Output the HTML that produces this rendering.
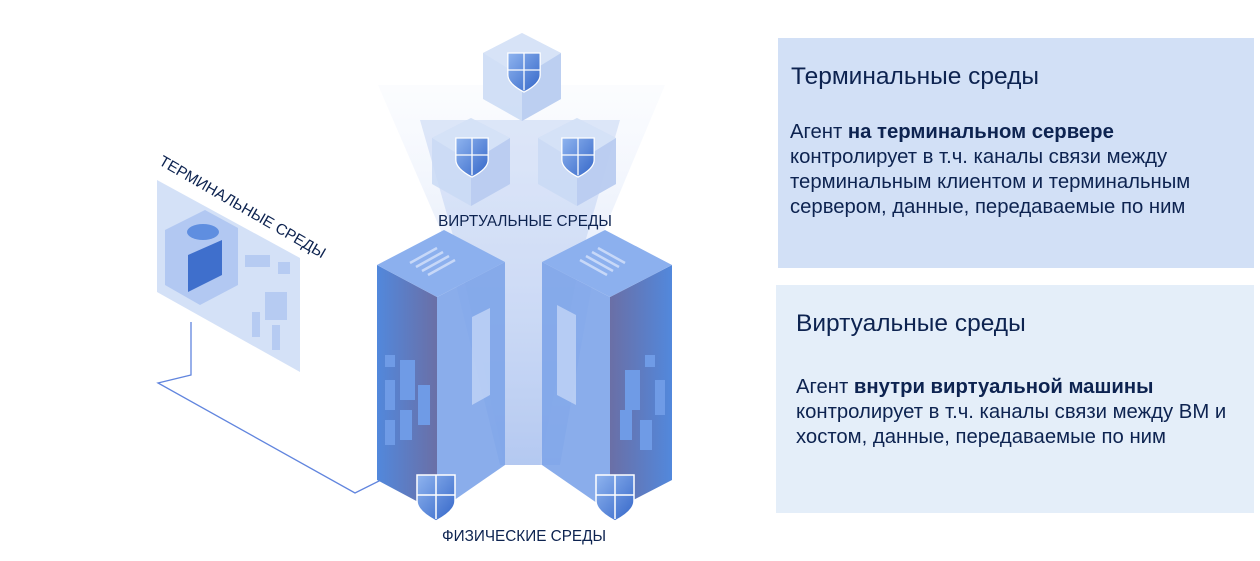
<!DOCTYPE html>
<html><head><meta charset="utf-8">
<style>
html,body{margin:0;padding:0;background:#fff;width:1260px;height:561px;overflow:hidden;font-family:"Liberation Sans",sans-serif;}
.box{position:absolute;color:#0d2350;}
.box h2{margin:0;font-weight:normal;font-size:24.5px;}
.box p{margin:0;font-size:20.3px;line-height:25px;}
</style></head><body>
<svg width="1260" height="561" style="position:absolute;left:0;top:0">
<defs>
<linearGradient id="beam" x1="0" y1="0" x2="0" y2="1">
<stop offset="0" stop-color="#dfe8fa" stop-opacity="0.2"/><stop offset="1" stop-color="#7fa3e8" stop-opacity="0.9"/></linearGradient>
<linearGradient id="lf" x1="0" y1="0" x2="1" y2="0"><stop offset="0" stop-color="#5288dc"/><stop offset="1" stop-color="#6a6fa6"/></linearGradient>
<linearGradient id="rf" x1="1" y1="0" x2="0" y2="0"><stop offset="0" stop-color="#5288dc"/><stop offset="1" stop-color="#6a6fa6"/></linearGradient>
<linearGradient id="sh" x1="0" y1="0" x2="1" y2="1"><stop offset="0" stop-color="#8fb4ef"/><stop offset="1" stop-color="#3466c8"/></linearGradient>
<g id="shield"><path d="M-19,-20 H19 V6 Q19,16 0,26 Q-19,16 -19,6Z" fill="url(#sh)" stroke="#fff" stroke-width="1.5"/><path d="M0,-20V24M-19,0H19" stroke="#fff" stroke-width="1.5"/></g>
<g id="cube"><polygon points="0,-42 39,-22 39,24 0,46 -39,24 -39,-22" fill="#c9d9f5" opacity="0.85"/><polygon points="0,2 39,-22 39,24 0,46" fill="#b4c8ef" opacity="0.7"/><polygon points="0,2 -39,-22 0,-42 39,-22" fill="#dbe6f9" opacity="0.6"/></g>
</defs>
<polygon points="378,85 665,85 600,240 560,465 500,465 445,240" fill="url(#beam)" opacity="0.6"/>
<polygon points="420,120 620,120 580,260 540,465 505,465 460,260" fill="#a9c1ef" opacity="0.35"/>
<use href="#cube" x="522" y="75"/><use href="#cube" x="471" y="160"/><use href="#cube" x="577" y="160"/>
<g transform="translate(524,70) scale(0.85)"><use href="#shield"/></g>
<g transform="translate(472,155) scale(0.85)"><use href="#shield"/></g>
<g transform="translate(578,155) scale(0.85)"><use href="#shield"/></g>
<text x="525" y="226" font-size="15.3" fill="#0d2350" text-anchor="middle">ВИРТУАЛЬНЫЕ СРЕДЫ</text>
<polygon points="157,180 300,258 300,372 157,292" fill="#c9d9f5" opacity="0.8"/>
<polygon points="165,230 205,210 238,228 238,285 200,305 165,285" fill="#a9c2f0" opacity="0.8"/>
<polygon points="188,255 222,240 222,275 188,292" fill="#3f6fcc"/>
<ellipse cx="203" cy="232" rx="16" ry="8" fill="#5f8ee0"/>
<g fill="#b6cbf2"><rect x="245" y="255" width="25" height="12"/><rect x="265" y="292" width="22" height="28"/><rect x="252" y="312" width="8" height="25"/><rect x="272" y="325" width="8" height="25"/><rect x="278" y="262" width="12" height="12"/></g>
<text transform="translate(158,164) rotate(30)" font-size="15.3" fill="#0d2350">ТЕРМИНАЛЬНЫЕ СРЕДЫ</text>
<polyline points="191,322 191,375 158,383 355,493 385,478" fill="none" stroke="#3a66d6" stroke-width="1.3" opacity="0.8"/>
<polygon points="377,265 437,297 437,512 377,480" fill="url(#lf)"/>
<polygon points="437,297 505,262 505,465 437,512" fill="#7da4e9" opacity="0.9"/>
<polygon points="377,265 444,230 505,262 437,297" fill="#8cb0ee"/>
<g stroke="#c7d8f8" stroke-width="2.5"><line x1="410" y1="263" x2="437" y2="248"/><line x1="416" y1="267" x2="443" y2="252"/><line x1="422" y1="271" x2="449" y2="256"/><line x1="428" y1="275" x2="455" y2="260"/></g>
<polygon points="472,317 490,308 490,395 472,405" fill="#c2d4f6" opacity="0.8"/>
<g fill="#6f9be6"><rect x="385" y="355" width="10" height="12"/><rect x="400" y="360" width="15" height="40"/><rect x="385" y="380" width="10" height="30"/><rect x="418" y="385" width="12" height="40"/><rect x="400" y="410" width="12" height="30"/><rect x="385" y="420" width="10" height="25"/></g>
<polygon points="542,262 610,297 610,512 542,465" fill="#7da4e9" opacity="0.9"/>
<polygon points="610,297 672,265 672,480 610,512" fill="url(#rf)"/>
<polygon points="542,262 605,230 672,265 610,297" fill="#8cb0ee"/>
<g stroke="#c7d8f8" stroke-width="2.5"><line x1="580" y1="260" x2="607" y2="275"/><line x1="586" y1="256" x2="613" y2="271"/><line x1="592" y1="252" x2="619" y2="267"/><line x1="598" y1="248" x2="625" y2="263"/></g>
<polygon points="557,305 576,315 576,405 557,395" fill="#c2d4f6" opacity="0.8"/>
<g fill="#6f9be6"><rect x="645" y="355" width="10" height="12"/><rect x="625" y="370" width="15" height="40"/><rect x="655" y="380" width="10" height="35"/><rect x="620" y="410" width="12" height="30"/><rect x="640" y="420" width="12" height="30"/></g>
<use href="#shield" x="436" y="495"/><use href="#shield" x="615" y="495"/>
<text x="524" y="541" font-size="15.3" fill="#0d2350" text-anchor="middle">ФИЗИЧЕСКИЕ СРЕДЫ</text>
<rect x="778" y="38" width="476" height="230" fill="#d2e0f6"/>
<rect x="776" y="285" width="478" height="228" fill="#e4eef9"/>
</svg>
<div class="box" style="left:791px;top:63px"><h2>Терминальные среды</h2></div>
<div class="box" style="left:790px;top:120px"><p>Агент <b>на терминальном сервере</b><br>контролирует в т.ч. каналы связи между<br>терминальным клиентом и терминальным<br>сервером, данные, передаваемые по ним</p></div>
<div class="box" style="left:796px;top:310px"><h2>Виртуальные среды</h2></div>
<div class="box" style="left:796px;top:375px"><p>Агент <b>внутри виртуальной машины</b><br>контролирует в т.ч. каналы связи между ВМ и<br>хостом, данные, передаваемые по ним</p></div>
</body></html>
